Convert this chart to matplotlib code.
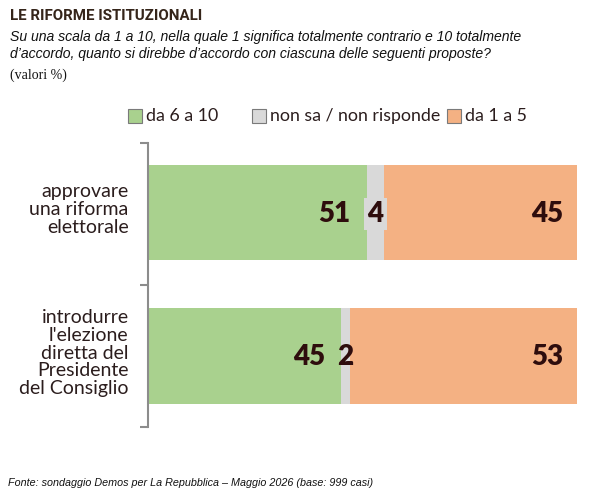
import matplotlib.pyplot as plt
from matplotlib.patches import Rectangle

# dati del sondaggio (valori %)
categories = ["approvare\nuna riforma\nelettorale",
              "introdurre\nl'elezione\ndiretta del\nPresidente\ndel Consiglio"]
favorevoli = [51, 45]      # da 6 a 10
non_sa = [4, 2]            # non sa / non risponde
contrari = [45, 53]        # da 1 a 5
series_names = ["da 6 a 10", "non sa / non risponde", "da 1 a 5"]

col_green = "#a9d18e"
col_gray = "#d9d9d9"
col_orange = "#f4b183"
col_num = "#2e0d0d"
col_text = "#2b1d1d"
label_font = "Lato"

fig = plt.figure(figsize=(6, 4.99), dpi=100)
W, H = 600, 499

# testi di intestazione
fig.text(10 / W, 1 - 16 / H, "LE RIFORME ISTITUZIONALI", fontsize=10.8, fontweight="bold",
         color="#35251a", family="Roboto", va="center", ha="left")
fig.text(10 / W, 1 - 37 / H, "Su una scala da 1 a 10, nella quale 1 significa totalmente contrario e 10 totalmente",
         fontsize=10.1, style="italic", family="Liberation Sans", va="center", color="#111111")
fig.text(10 / W, 1 - 54 / H, "d\u2019accordo, quanto si direbbe d\u2019accordo con ciascuna delle seguenti proposte?",
         fontsize=10.1, style="italic", family="Liberation Sans", va="center", color="#111111")
fig.text(10 / W, 1 - 75 / H, "(valori %)", fontsize=10, family="Liberation Serif",
         va="center", color="#111111")
fig.text(8 / W, 1 - 483 / H, "Fonte: sondaggio Demos per La Repubblica \u2013 Maggio 2026 (base: 999 casi)",
         fontsize=7.75, style="italic", family="Liberation Sans", va="center", color="#111111")

# legenda a mano
leg_items = [(128, series_names[0], col_green),
             (252, series_names[1], col_gray),
             (447, series_names[2], col_orange)]
for x0, name, c in leg_items:
    fig.patches.append(Rectangle((x0 / W, 1 - 123 / H), 14 / W, 14 / H, transform=fig.transFigure,
                                 facecolor=c, edgecolor="#7a7a7a", linewidth=0.8))
    fig.text((x0 + 18) / W, 1 - 116 / H, name, fontsize=12.8, family=label_font,
             va="center", ha="left", color=col_text)

ax = fig.add_axes([148 / W, 1 - 427 / H, 429 / W, 284 / H])
ypos = [0.49, 1.5]
h = 0.67
ax.barh(ypos, favorevoli, height=h, color=col_green)
ax.barh(ypos, non_sa, left=favorevoli, height=h, color=col_gray)
left_c = [a + b for a, b in zip(favorevoli, non_sa)]
ax.barh(ypos, contrari, left=left_c, height=h, color=col_orange)

for y, f, n, c, lc in zip(ypos, favorevoli, non_sa, contrari, left_c):
    ax.text(f - 3.8, y + 0.01, str(f), ha="right", va="center", fontsize=20, fontweight="heavy",
            color=col_num, family=label_font)
    bb = dict(boxstyle="square,pad=0.12", fc=col_gray, ec="none") if n > 3 else None
    ax.text(f + n / 2, y + 0.01, str(n), ha="center", va="center", fontsize=20, fontweight="heavy",
            color=col_num, family=label_font, bbox=bb)
    ax.text(100 - 3.3, y + 0.01, str(c), ha="right", va="center", fontsize=20, fontweight="heavy",
            color=col_num, family=label_font)

ax.set_xlim(0, 100)
ax.set_ylim(2, 0)
for s in ["top", "right", "bottom"]:
    ax.spines[s].set_visible(False)
ax.spines["left"].set_color("#8c8c8c")
ax.spines["left"].set_linewidth(1.5)
ax.set_xticks([])
ax.set_yticks([y - 0.035 for y in ypos])
ax.set_yticklabels(categories, fontsize=14, family=label_font, color=col_text, linespacing=1.07)
ax.tick_params(axis="y", which="major", length=0, pad=14)
ax.set_yticks([0, 1, 2], minor=True)
ax.tick_params(axis="y", which="minor", length=6, width=1.5, color="#8c8c8c", direction="out")

fig.savefig("out.png", dpi=100)
